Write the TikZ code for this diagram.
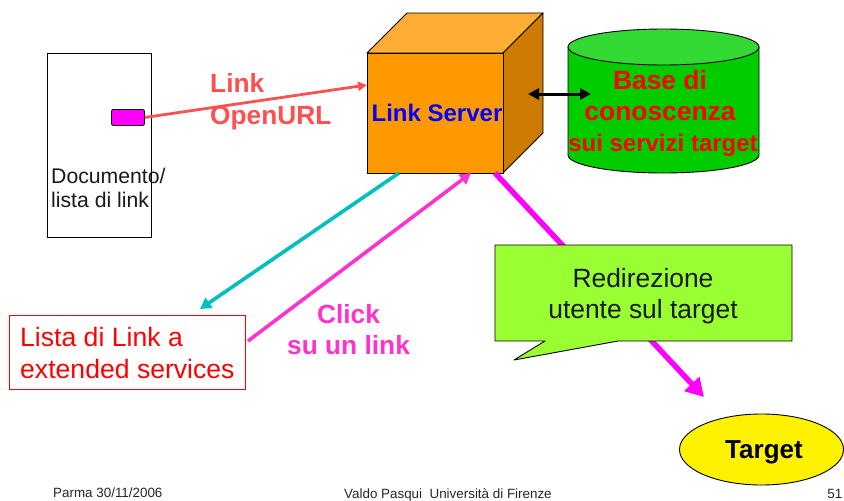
\documentclass[tikz,border=0pt]{standalone}
\usepackage{fontspec}
\setmainfont{Liberation Sans}
\usetikzlibrary{arrows.meta,shapes.geometric}
\definecolor{cOrange}{HTML}{FF9900}
\definecolor{cOrangeTop}{HTML}{FFAD33}
\definecolor{cOrangeSide}{HTML}{CC7A00}
\definecolor{cGreen}{HTML}{00CC00}
\definecolor{cGreenTop}{HTML}{33D933}
\definecolor{cLime}{HTML}{99FF33}
\definecolor{cSalmon}{HTML}{FF5050}
\definecolor{cTeal}{HTML}{00BFBF}
\definecolor{cPink}{HTML}{FF33CC}
\definecolor{cMag}{HTML}{FF00FF}
\tikzset{
  fs/.style={font=\fontsize{#1}{#1}\selectfont},
  fsb/.style={font=\fontsize{#1}{#1}\selectfont\bfseries},
  box/.style={draw=black,line width=0.9pt,minimum width=0pt,inner sep=0pt,anchor=north west},
  txt/.style={inner sep=0pt,anchor=base},
  edge/.style={line width=0.9pt,line join=round},
}
\begin{document}
\begin{tikzpicture}[x=1pt,y=-1pt]
\useasboundingbox (0,0) rectangle (844,501);
% document
\node[box,fill=white,minimum width=104pt,minimum height=184pt] (doc) at (47,53) {};
\node[box,fill=cMag,rounded corners=2pt,minimum width=33pt,minimum height=16pt] (lnk) at (111,109) {};
\node[txt,anchor=base west,fs=21.2,text=black!90] (doc1) at (51,183) {Documento/};
\node[txt,anchor=base west,fs=21.2,text=black!90] (doc2) at (51,207) {lista di link};
% cube
\filldraw[edge,fill=cOrangeTop] (367,53) -- (407,13) -- (543,13) -- (503,53) -- cycle;
\filldraw[edge,fill=cOrangeSide] (503,53) -- (543,13) -- (543,133) -- (503,173) -- cycle;
\node[box,fill=cOrange,minimum width=136pt,minimum height=120pt] (srv) at (367,53) {};
\node[txt,fsb=24,text=blue] (srvtxt) at (437,121) {Link Server};
% cylinder
\filldraw[edge,fill=cGreen] (568,47) -- (568,155) arc[start angle=180,end angle=0,x radius=95.5,y radius=18] -- (759,47) -- cycle;
\filldraw[edge,fill=cGreenTop] (663.5,47) ellipse[x radius=95.5,y radius=18];
\coordinate (kbw) at (591,94);
\coordinate (srvs) at (528,94);
\node[txt,fsb=26.4,text=red] (kb1) at (660,89) {Base di};
\node[txt,fsb=26.4,text=red] (kb2) at (660,120.5) {conoscenza};
\node[txt,fsb=24,text=red] (kb3) at (663,151.5) {sui servizi target};
% connectors
\coordinate (srvin) at (367,85);
\coordinate (srvcy) at (399,173);
\coordinate (srvpk) at (471,173);
\coordinate (srvmg) at (495,173);
\coordinate (lstin) at (200,309);
\coordinate (lstout) at (248,341);
\coordinate (tgtin) at (704,397);
\draw[line width=2.8pt,cSalmon,-{Triangle[length=9pt,width=9pt]}] (lnk.east) -- (srvin);
\draw[line width=3pt,black,{Triangle[length=11pt,width=11pt]}-{Triangle[length=11pt,width=11pt]}] (srvs) -- (kbw);
\draw[line width=3.6pt,cTeal,-{Triangle[length=11pt,width=12pt]}] (srvcy) -- (lstin);
\draw[line width=3.6pt,cPink,-{Triangle[length=11pt,width=12pt]}] (lstout) -- (srvpk);
\draw[line width=5.5pt,cMag,-{Triangle[length=18pt,width=20pt]}] (srvmg) -- (tgtin);
% list box
\node[box,draw=red,fill=white,minimum width=236pt,minimum height=74pt] (lst) at (9,315) {};
\node[txt,anchor=base west,fs=26.6,text=red] (lst1) at (20,346.5) {Lista di Link a};
\node[txt,anchor=base west,fs=26.6,text=red] (lst2) at (20,378.5) {extended services};
% labels
\node[txt,anchor=base west,fsb=26.3,text=cSalmon] (url1) at (210,92.5) {Link};
\node[txt,anchor=base west,fsb=26.3,text=cSalmon] (url2) at (210,124.5) {OpenURL};
\node[txt,fsb=26.3,text=cPink] (clk1) at (348.5,323) {Click};
\node[txt,fsb=26.3,text=cPink] (clk2) at (348.5,354) {su un link};
% callout
\filldraw[edge,fill=cLime] (495,245) -- (792,245) -- (792,341) -- (618,341) -- (514,360) -- (545,341) -- (495,341) -- cycle;
\node[txt,fs=26.4,text=black!90] (co1) at (643,287) {Redirezione};
\node[txt,fs=26.4,text=black!90] (co2) at (643,318.5) {utente sul target};
% target
\node[draw=black,line width=0.9pt,fill=yellow,ellipse,inner sep=0pt,minimum width=164pt,minimum height=71pt] (tgt) at (761.5,449.5) {};
\node[txt,fsb=26,text=black] (tgttxt) at (764,458.5) {Target};
% footer
\node[txt,anchor=base west,fs=13.4,text=black!85] (f1) at (53,497) {Parma 30/11/2006};
\node[txt,anchor=base west,fs=13.4,text=black!85] (f2) at (344,498) {Valdo Pasqui\ \ Università di Firenze};
\node[txt,anchor=base east,fs=13.4,text=black!85] (f3) at (842.5,498.5) {51};
\end{tikzpicture}
\end{document}
